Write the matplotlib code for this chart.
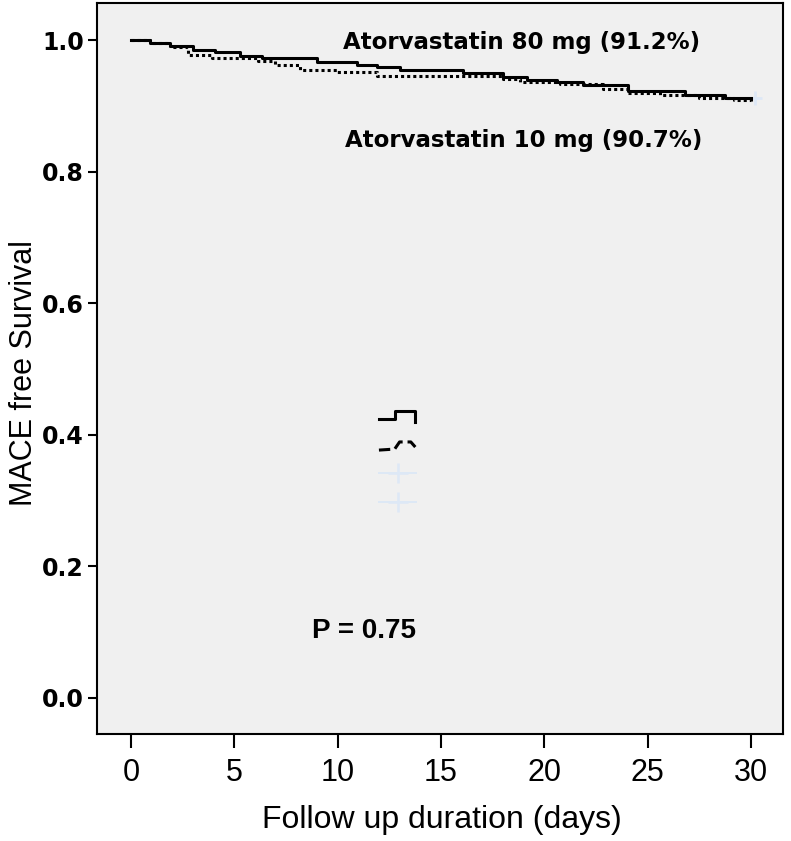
import numpy as np
import matplotlib
matplotlib.use("Agg")
import matplotlib.pyplot as plt
from matplotlib.lines import Line2D
from matplotlib.legend_handler import HandlerBase

# --- Kaplan-Meier step data ------------------------------------------------
days_80 = [0.0, 0.92, 1.89, 3.00, 4.06, 5.27, 6.34, 9.00, 10.93, 11.90, 13.01,
           16.06, 17.99, 19.16, 20.61, 21.87, 24.04, 26.80, 28.72, 30.0]
surv_80 = [1.000, 0.9955, 0.991, 0.985, 0.982, 0.976, 0.973, 0.967, 0.962,
           0.959, 0.9545, 0.950, 0.944, 0.9395, 0.9365, 0.932, 0.922, 0.916,
           0.912, 0.912]

days_10 = [0.0, 0.92, 1.89, 2.76, 3.92, 6.14, 6.97, 8.18, 9.97, 11.90, 18.0,
           18.82, 20.75, 22.83, 24.04, 25.6, 27.5, 29.2, 30.0]
surv_10 = [1.000, 0.9955, 0.989, 0.977, 0.973, 0.968, 0.962, 0.955, 0.951,
           0.945, 0.941, 0.936, 0.933, 0.926, 0.920, 0.916, 0.912, 0.909,
           0.907]

x_ticks = [0, 5, 10, 15, 20, 25, 30]
y_ticks = [0.0, 0.2, 0.4, 0.6, 0.8, 1.0]

label_80 = "Atorvastatin 80 mg (91.2%)"
label_10 = "Atorvastatin 10 mg (90.7%)"
p_text = "P = 0.75"

CENSOR = "#dde8f6"


class StepGlyph(HandlerBase):
    """SPSS-like step shaped legend glyph."""
    def __init__(self, fx, fy):
        super().__init__()
        self.fx = np.asarray(fx)
        self.fy = np.asarray(fy)

    def create_artists(self, legend, orig_handle, xdescent, ydescent,
                       width, height, fontsize, trans):
        xs = self.fx * width - xdescent
        ys = self.fy * height - ydescent
        line = Line2D(xs, ys, color=orig_handle.get_color(),
                      linestyle=orig_handle.get_linestyle(),
                      linewidth=orig_handle.get_linewidth())
        line.set_transform(trans)
        return [line]


fig = plt.figure(figsize=(7.91, 8.41), dpi=100)
fig.patch.set_facecolor("white")
ax = fig.add_axes([0.1226, 0.1272, 0.8673, 0.869])
ax.set_facecolor("#f0f0f0")

ax.step(days_80, surv_80, where="post", color="black", lw=2.2, zorder=4)
ax.step(days_10, surv_10, where="post", color="black", lw=2.2,
        ls=(0, (1, 1.0)), zorder=3)
# censored end point (faint blue)
ax.plot([days_80[-1] + 0.2], [surv_80[-1]], marker="+", ms=10, mew=2,
        color=CENSOR, ls="none", zorder=2)

ax.set_xlim(-1.65, 31.55)
ax.set_ylim(-0.055, 1.056)
ax.set_xticks(x_ticks)
ax.set_xticklabels([str(t) for t in x_ticks], fontfamily="Liberation Sans",
                   fontsize=22)
ax.set_yticks(y_ticks)
ax.set_yticklabels([f"{t:.1f}" for t in y_ticks], fontfamily="DejaVu Sans",
                   fontweight="bold", fontsize=17)
ax.tick_params(axis="x", direction="out", length=10, width=1.5, pad=7,
               color="black")
ax.tick_params(axis="y", direction="out", length=6.5, width=1.5, pad=3,
               color="black")
for s in ax.spines.values():
    s.set_linewidth(1.5)
    s.set_color("black")

ax.set_xlabel("Follow up duration (days)", fontfamily="Liberation Sans",
              fontsize=23, va="center")
ax.xaxis.set_label_coords(0.503, -0.118)
ax.set_ylabel("MACE free Survival", fontfamily="Liberation Sans",
              fontsize=22, va="center")
ax.yaxis.set_label_coords(-0.106, 0.494)

ax.text(18.9, 0.997, label_80, ha="center", va="center",
        fontfamily="DejaVu Sans", fontweight="bold", fontsize=16.5)
ax.text(19.0, 0.847, label_10, ha="center", va="center",
        fontfamily="DejaVu Sans", fontweight="bold", fontsize=16.5)
ax.text(11.25, 0.101, p_text, ha="center", va="center",
        fontfamily="Liberation Sans", fontweight="bold", fontsize=20)

# legend glyphs (labels are empty in the original)
h_solid = Line2D([], [], color="black", lw=2.2)
h_dot = Line2D([], [], color="black", lw=2.2, ls=(0, (1, 1.0)))
h_c1 = Line2D([], [], color=CENSOR, marker="+", ms=14, mew=1.8, ls="-",
              lw=1.4)
h_c2 = Line2D([], [], color=CENSOR, marker="+", ms=14, mew=1.8, ls="-",
              lw=1.4)
glyph_solid = StepGlyph([0, 0.42, 0.42, 0.97, 0.97], [0.2, 0.2, 1.0, 1.0, 0.0])
glyph_dot = StepGlyph([0, 0.42, 0.55, 0.85, 0.97], [0.0, 0.1, 0.8, 0.8, 0.3])
ax.legend([h_solid, h_dot, h_c1, h_c2], ["", "", "", ""],
          handler_map={h_solid: glyph_solid, h_dot: glyph_dot},
          loc="upper left", bbox_to_anchor=(0.411, 0.443), frameon=False,
          fontsize=10, handlelength=2.7, handleheight=0.75, labelspacing=1.05,
          borderpad=0, borderaxespad=0, handletextpad=0)

fig.savefig("out.png", dpi=100, facecolor="white")
